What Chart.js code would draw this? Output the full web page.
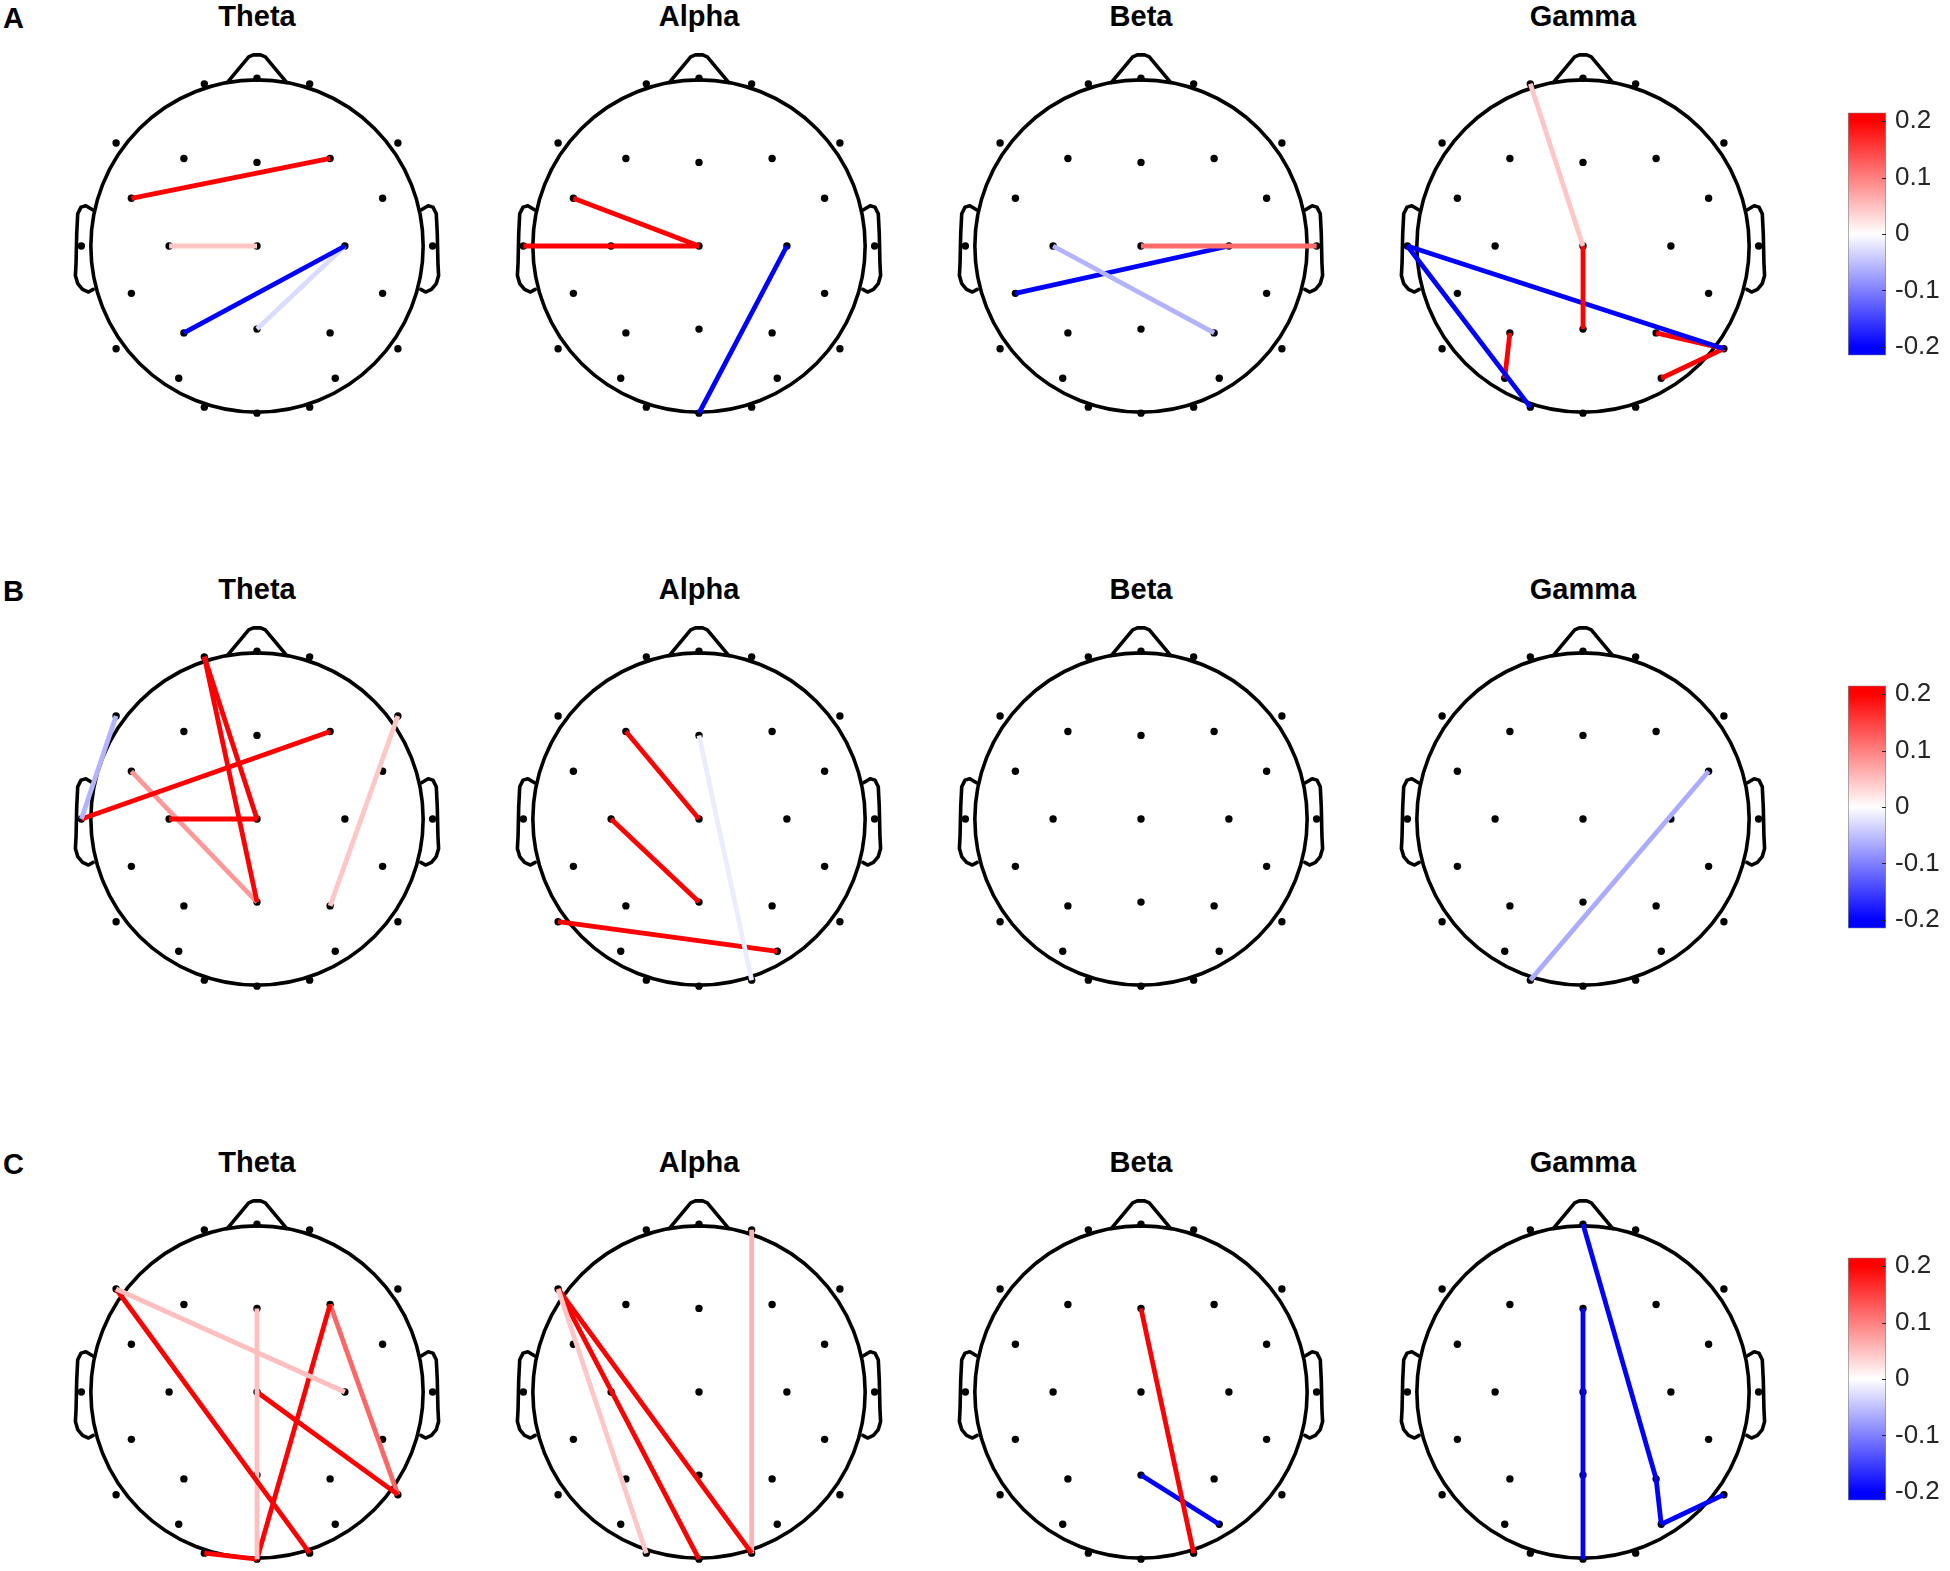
<!DOCTYPE html>
<html>
<head>
<meta charset="utf-8">
<script src="https://cdn.jsdelivr.net/npm/chart.js@4.4.1/dist/chart.umd.min.js"></script>
<style>
  html, body { margin: 0; padding: 0; background: #fff; overflow: hidden; }
  #page { position: relative; width: 1950px; height: 1571px; }
  #page canvas { position: absolute; }
  .band, .panel {
    position: absolute;
    font: bold 29px "Liberation Sans", Arial, Helvetica, sans-serif;
    line-height: 29px;
    color: #000;
    white-space: nowrap;
  }
  .band { width: 200px; text-align: center; }
</style>
</head>
<body>
<div id="page"></div>
<script>
const bands = ['Theta', 'Alpha', 'Beta', 'Gamma'];
const panelLetters = ['A', 'B', 'C'];

// electrode layout (head radius = 1, nose up)
const channels = ['Fp1', 'Fpz', 'Fp2', 'F7', 'F3', 'Fz', 'F4', 'F8', 'FC5', 'FC6',
                  'T7', 'C3', 'Cz', 'C4', 'T8', 'CP5', 'CP6', 'P7', 'P3', 'Pz',
                  'P4', 'P8', 'PO3', 'PO4', 'O1', 'Oz', 'O2'];
const channelX = [-0.317, 0, 0.317, -0.848, -0.44, 0, 0.44, 0.848, -0.756, 0.756,
                  -1.057, -0.529, 0, 0.529, 1.057, -0.756, 0.756, -0.848, -0.44, 0,
                  0.44, 0.848, -0.471, 0.471, -0.317, 0, 0.317];
const channelY = [0.976, 1.01, 0.976, 0.62, 0.527, 0.503, 0.527, 0.62, 0.287, 0.287,
                  0, 0, 0, 0, 0, -0.285, -0.285, -0.618, -0.523, -0.5,
                  -0.523, -0.618, -0.796, -0.796, -0.97, -1.006, -0.97];

// significant connections: [channel, channel, value]
const aTheta = [['FC5', 'F4', 0.2], ['C3', 'Cz', 0.045], ['P3', 'C4', -0.2], ['Pz', 'C4', -0.028]];
const aAlpha = [['FC5', 'Cz', 0.2], ['T7', 'Cz', 0.2], ['C4', 'Oz', -0.2]];
const aBeta  = [['Cz', 'T8', 0.115], ['C3', 'P4', -0.06], ['CP5', 'C4', -0.2]];
const aGamma = [['Fp1', 'Cz', 0.045], ['Cz', 'Pz', 0.2], ['T7', 'P8', -0.2], ['T7', 'O1', -0.2],
                ['P3', 'PO3', 0.2], ['P4', 'P8', 0.2], ['PO4', 'P8', 0.2]];

const bTheta = [['F7', 'T7', -0.06], ['Fp1', 'Cz', 0.2], ['Fp1', 'Pz', 0.2], ['C3', 'Cz', 0.2],
                ['T7', 'F4', 0.2], ['FC5', 'Pz', 0.08], ['F8', 'P4', 0.045]];
const bAlpha = [['F3', 'Cz', 0.2], ['C3', 'Pz', 0.2], ['Fz', 'O2', -0.015], ['P7', 'PO4', 0.2]];
const bBeta  = [];
const bGamma = [['FC6', 'O1', -0.065]];

const cTheta = [['F7', 'C4', 0.05], ['F7', 'O2', 0.2], ['Fz', 'Oz', 0.05], ['Cz', 'P8', 0.2],
                ['F4', 'Oz', 0.2], ['F4', 'P8', 0.12], ['O1', 'Oz', 0.2]];
const cAlpha = [['F7', 'O1', 0.045], ['F7', 'Oz', 0.2], ['F7', 'O2', 0.2], ['Fp2', 'O2', 0.06]];
const cBeta  = [['Fz', 'O2', 0.2], ['Pz', 'PO4', -0.2]];
const cGamma = [['Fpz', 'P4', -0.2], ['P4', 'PO4', -0.2], ['PO4', 'P8', -0.2], ['Fz', 'Oz', -0.2]];

const rows = [
  [aTheta, aAlpha, aBeta, aGamma],
  [bTheta, bAlpha, bBeta, bGamma],
  [cTheta, cAlpha, cBeta, cGamma]
];

// colour bar
const colorLimit = 0.2;
const cbarLimit = 0.215;
const cbarTicks = [-0.2, -0.1, 0, 0.1, 0.2];
const cbarTickLabels = ['-0.2', '-0.1', '0', '0.1', '0.2'];

// head outline shape (nose and left ear, head radius = 1)
const noseX = [-0.178, -0.05, -0.022, 0.022, 0.05, 0.178];
const noseY = [0.985, 1.138, 1.15, 1.15, 1.138, 0.985];
const earX = [-0.99, -1.03, -1.059, -1.079, -1.085, -1.089, -1.093, -1.079, -1.05, -1.014, -0.986];
const earY = [0.218, 0.242, 0.234, 0.194, 0.075, -0.103, -0.178, -0.226, -0.261, -0.277, -0.261];

// page layout
const headCenterX = [257, 699, 1141, 1583];
const headCenterY = [246, 819, 1392];
const headBox = 440;
const headRange = 1.3;
const cbarLeft = 1848;
const cbarTop = [108, 681, 1253];
const cbarHeight = 252;
const cbarWidth = 38;

const page = document.getElementById('page');

const valueColor = (v) => {
  const t = Math.max(-1, Math.min(1, v / colorLimit));
  let r = 255, g = 255, b = 255;
  if (t >= 0) {
    g = b = Math.round(255 * (1 - t));
  } else {
    r = g = Math.round(255 * (1 + t));
  }
  return `rgb(${r},${g},${b})`;
};

const headOutline = {
  id: 'headOutline',
  beforeDatasetsDraw(chart) {
    const { ctx, scales: { x, y } } = chart;
    const polyline = (xs, ys) => {
      ctx.beginPath();
      xs.forEach((v, i) => {
        const px = x.getPixelForValue(v), py = y.getPixelForValue(ys[i]);
        if (i === 0) ctx.moveTo(px, py); else ctx.lineTo(px, py);
      });
      ctx.stroke();
    };
    ctx.save();
    ctx.strokeStyle = '#000';
    ctx.lineWidth = 3.6;
    ctx.lineJoin = 'round';
    ctx.lineCap = 'round';
    ctx.beginPath();
    ctx.arc(x.getPixelForValue(0), y.getPixelForValue(0),
            x.getPixelForValue(1) - x.getPixelForValue(0), 0, 2 * Math.PI);
    ctx.stroke();
    polyline(noseX, noseY);
    polyline(earX, earY);
    polyline(earX.map(v => -v), earY);
    ctx.restore();
  }
};

const makeHead = (row, col, links) => {
  const cv = document.createElement('canvas');
  cv.width = headBox;
  cv.height = headBox;
  cv.style.left = (headCenterX[col] - headBox / 2) + 'px';
  cv.style.top = (headCenterY[row] - headBox / 2) + 'px';
  page.appendChild(cv);

  const linkSets = links.map(([a, b, v]) => {
    const i = channels.indexOf(a);
    const j = channels.indexOf(b);
    return {
      data: [{ x: channelX[i], y: channelY[i] }, { x: channelX[j], y: channelY[j] }],
      showLine: true,
      borderColor: valueColor(v),
      borderWidth: 4.8,
      pointRadius: 0,
      order: 1
    };
  });

  const dots = {
    data: channels.map((c, i) => ({ x: channelX[i], y: channelY[i] })),
    showLine: false,
    pointRadius: 3.7,
    pointBackgroundColor: '#000',
    pointBorderWidth: 0,
    order: 2
  };

  new Chart(cv, {
    type: 'scatter',
    data: { datasets: [...linkSets, dots] },
    options: {
      responsive: false,
      animation: false,
      events: [],
      layout: { padding: 0 },
      plugins: { legend: { display: false }, tooltip: { enabled: false } },
      scales: {
        x: { display: false, min: -headRange, max: headRange },
        y: { display: false, min: -headRange, max: headRange }
      }
    },
    plugins: [headOutline]
  });
};

const gradientFill = (context) => {
  const chart = context.chart;
  const area = chart.chartArea;
  if (!area) return null;
  const ys = chart.scales.y;
  const g = chart.ctx.createLinearGradient(0, area.bottom, 0, area.top);
  const span = area.bottom - area.top;
  [-cbarLimit, -colorLimit, 0, colorLimit, cbarLimit].forEach(v => {
    const off = (area.bottom - ys.getPixelForValue(v)) / span;
    g.addColorStop(Math.max(0, Math.min(1, off)), valueColor(v));
  });
  return g;
};

const cbarTickMarks = {
  id: 'cbarTickMarks',
  afterDatasetsDraw(chart) {
    const { ctx, chartArea: area, scales: { y } } = chart;
    ctx.save();
    ctx.strokeStyle = '#262626';
    ctx.lineWidth = 1;
    cbarTicks.forEach(v => {
      const py = Math.round(y.getPixelForValue(v)) + 0.5;
      ctx.beginPath();
      ctx.moveTo(area.right - 4, py);
      ctx.lineTo(area.right, py);
      ctx.stroke();
    });
    ctx.restore();
  }
};

const makeColorbar = (row) => {
  const pad = 20;
  const axisWidth = 62;
  const cv = document.createElement('canvas');
  cv.width = cbarWidth + axisWidth;
  cv.height = cbarHeight + 2 * pad;
  cv.style.left = cbarLeft + 'px';
  cv.style.top = (cbarTop[row] - pad) + 'px';
  page.appendChild(cv);

  new Chart(cv, {
    type: 'bar',
    data: {
      labels: [''],
      datasets: [{
        data: [[-cbarLimit, cbarLimit]],
        backgroundColor: gradientFill,
        borderColor: '#8a8a8a',
        borderWidth: 1,
        borderSkipped: false,
        barPercentage: 1,
        categoryPercentage: 1
      }]
    },
    options: {
      responsive: false,
      animation: false,
      events: [],
      layout: { padding: { top: pad, bottom: pad, left: 0, right: 0 } },
      plugins: { legend: { display: false }, tooltip: { enabled: false } },
      scales: {
        x: { display: false },
        y: {
          position: 'right',
          min: -cbarLimit,
          max: cbarLimit,
          afterFit: (scale) => { scale.width = axisWidth; },
          afterBuildTicks: (scale) => { scale.ticks = cbarTicks.map(v => ({ value: v })); },
          grid: { display: false, drawTicks: false },
          border: { display: false },
          ticks: {
            padding: 9,
            color: '#262626',
            font: { family: '"Liberation Sans", Arial, Helvetica, sans-serif', size: 26 },
            callback: (v, i) => cbarTickLabels[i]
          }
        }
      }
    },
    plugins: [cbarTickMarks]
  });
};

const addText = (cls, text, left, top) => {
  const d = document.createElement('div');
  d.className = cls;
  d.textContent = text;
  d.style.left = left + 'px';
  d.style.top = top + 'px';
  page.appendChild(d);
};

rows.forEach((bandLinks, row) => {
  addText('panel', panelLetters[row], 3, headCenterY[row] - 218 - 24.5);
  bandLinks.forEach((links, col) => {
    addText('band', bands[col], headCenterX[col] - 100, headCenterY[row] - 220 - 24.5);
    makeHead(row, col, links);
  });
  makeColorbar(row);
});
</script>
</body>
</html>
